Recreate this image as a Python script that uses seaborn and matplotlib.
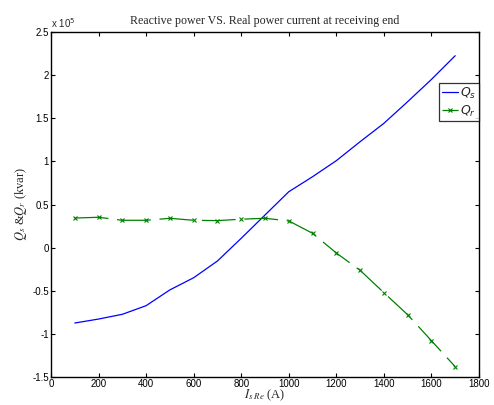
"""Reactive power vs real power current at receiving end"""
import seaborn as sns
import matplotlib.pyplot as plt
import matplotlib.ticker as mticker
import pandas as pd

sns.set_theme(style='white')
plt.rcParams['font.family'] = ['Liberation Sans', 'DejaVu Sans']
plt.rcParams['mathtext.fontset'] = 'stix'
plt.rcParams['axes.unicode_minus'] = False

# current at receiving end (A)
current = [100, 200, 300, 400, 500, 600, 700, 800, 900,
           1000, 1100, 1200, 1300, 1400, 1500, 1600, 1700]
# reactive power (kvar)
q_s = [-87400, -82800, -77300, -67300, -49000, -34900, -15500, 10800, 37800,
       64800, 82200, 100800, 122800, 144100, 169200, 195000, 222500]
q_r = [34300, 35200, 31700, 31700, 34000, 31700, 31300, 33000, 34000,
       31000, 16600, -6200, -26300, -52200, -77800, -107900, -138000]

df = pd.concat([
    pd.DataFrame({'I': current, 'Q': q_s, 'series': 'Qs'}),
    pd.DataFrame({'I': current, 'Q': q_r, 'series': 'Qr'}),
])

fig = plt.figure(figsize=(4.94, 4.05), dpi=100, facecolor='white')
ax = fig.add_axes([0.1032, 0.0691, 0.8664, 0.8519])

sns.lineplot(data=df[df['series'] == 'Qs'], x='I', y='Q', color='#0000ff',
             linewidth=0.9, ax=ax, label=r'$Q_s$')
sns.lineplot(data=df[df['series'] == 'Qr'], x='I', y='Q', color='#008000',
             linewidth=0.9, marker='x', markersize=2.3, markeredgewidth=0.8,
             markeredgecolor='#008000', ax=ax, label=r'$Q_r$')
ax.lines[1].set_linestyle((0, (27, 7)))

ax.set_xlim(0, 1800)
ax.set_ylim(-150000, 250000)
ax.set_xticks(range(0, 1801, 200))
ax.set_yticks([v * 50000 for v in range(-3, 6)])
ax.yaxis.set_major_formatter(mticker.FuncFormatter(lambda v, p: f'{v / 1e5:g}'))

for sp in ax.spines.values():
    sp.set_edgecolor('black')
    sp.set_linewidth(1.0)
ax.tick_params(direction='in', length=3, width=0.8, labelsize=7,
               top=True, right=True, bottom=True, left=True, pad=1.5,
               colors='black')

ax.set_title('Reactive power VS. Real power current at receiving end',
             family='Liberation Serif', fontsize=8.6, pad=6)
ax.set_xlabel(r'$I_{s\ Re}$ (A)', family='Liberation Serif', fontsize=9, labelpad=-1)
ax.set_ylabel(r'$Q_s$ &$Q_r$ (kvar)', family='Liberation Serif', fontsize=9, labelpad=2)
ax.text(0.0, 1.005, r'x 10$^{5}$', transform=ax.transAxes, fontsize=7,
        ha='left', va='bottom', math_fontfamily='dejavusans')

leg = ax.legend(loc='upper left', bbox_to_anchor=(0.907, 0.852),
                frameon=True, fancybox=False, borderpad=0.2, handlelength=1.3,
                handletextpad=0.2, labelspacing=0.25, borderaxespad=0,
                prop={'family': 'Liberation Sans', 'size': 9})
for t in leg.get_texts():
    t.set_math_fontfamily('dejavusans')
leg.get_frame().set_edgecolor('black')
leg.get_frame().set_linewidth(0.9)

fig.savefig('out.png', dpi=100, facecolor='white')
